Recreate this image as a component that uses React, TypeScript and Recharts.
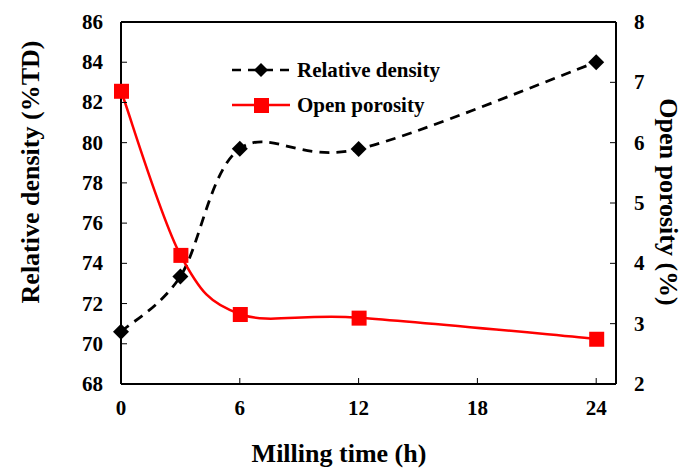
import { LineChart, Line, XAxis, YAxis, ReferenceLine } from "recharts";

const hours = [0, 3, 6, 12, 24];
const relativeDensity = [70.6, 73.35, 79.7, 79.68, 84.0];
const openPorosity = [6.86, 4.14, 3.16, 3.1, 2.75];

const xTicks = [0, 6, 12, 18, 24];
const leftTicks = [68, 70, 72, 74, 76, 78, 80, 82, 84, 86];
const rightTicks = [2, 3, 4, 5, 6, 7, 8];

const data = hours.map((t, i) => ({
  t,
  density: relativeDensity[i],
  porosity: openPorosity[i],
}));

const FONT = "'Liberation Serif', 'Times New Roman', serif";

// spreadsheet-like smoothed line (catmull-rom as bezier)
function smoothCurve(context: any) {
  let pts: [number, number][] = [];
  return {
    areaStart() {},
    areaEnd() {},
    lineStart() {
      pts = [];
    },
    point(x: number, y: number) {
      pts.push([+x, +y]);
    },
    lineEnd() {
      const n = pts.length;
      if (!n) return;
      context.moveTo(pts[0][0], pts[0][1]);
      const k = 1 / 6;
      for (let i = 0; i < n - 1; i++) {
        const p0 = pts[Math.max(i - 1, 0)];
        const p1 = pts[i];
        const p2 = pts[i + 1];
        const p3 = pts[Math.min(i + 2, n - 1)];
        context.bezierCurveTo(
          p1[0] + (p2[0] - p0[0]) * k,
          p1[1] + (p2[1] - p0[1]) * k,
          p2[0] - (p3[0] - p1[0]) * k,
          p2[1] - (p3[1] - p1[1]) * k,
          p2[0],
          p2[1]
        );
      }
    },
  };
}

const Diamond = ({ cx, cy }: any) =>
  cx == null ? null : (
    <polygon
      points={`${cx},${cy - 8} ${cx + 8},${cy} ${cx},${cy + 8} ${cx - 8},${cy}`}
      fill="#000"
    />
  );

const Square = ({ cx, cy }: any) =>
  cx == null ? null : <rect x={cx - 7} y={cy - 7} width={15} height={15} fill="#ff0000" />;

const tickText = { fontFamily: FONT, fontWeight: 700, fontSize: 21, fill: "#000" };
const titleText = { fontFamily: FONT, fontWeight: 700, fontSize: 26, fill: "#000" };

const LeftTick = ({ x, y, payload }: any) => (
  <g>
    <line x1={x + 18} x2={x + 24} y1={y} y2={y} stroke="#000" strokeWidth={1} />
    <text x={x} y={y} dy={7} textAnchor="end" style={tickText}>
      {payload.value}
    </text>
  </g>
);

const RightTick = ({ x, y, payload }: any) => (
  <g>
    <line x1={x - 18} x2={x - 24} y1={y} y2={y} stroke="#000" strokeWidth={1} />
    <text x={x} y={y} dy={7} textAnchor="start" style={tickText}>
      {payload.value}
    </text>
  </g>
);

const BottomTick = ({ x, y, payload }: any) => (
  <g>
    <line x1={x} x2={x} y1={y - 16} y2={y - 22} stroke="#000" strokeWidth={1} />
    <text x={x} y={y} dy={15} textAnchor="middle" style={tickText}>
      {payload.value}
    </text>
  </g>
);

const XTitle = () => (
  <text x={339} y={453} textAnchor="middle" dominantBaseline="central" style={titleText}>
    Milling time (h)
  </text>
);

const LeftTitle = () => (
  <text
    x={30}
    y={172}
    transform="rotate(-90 30 172)"
    textAnchor="middle"
    dominantBaseline="central"
    style={titleText}
  >
    Relative density (%TD)
  </text>
);

const RightTitle = () => (
  <text
    x={668}
    y={202}
    transform="rotate(90 668 202)"
    textAnchor="middle"
    dominantBaseline="central"
    style={titleText}
  >
    Open porosity (%)
  </text>
);

const LegendBox = () => (
  <svg
    width={240}
    height={60}
    style={{ position: "absolute", left: 232, top: 58, overflow: "visible" }}
  >
    <g>
      <line x1={0} x2={58} y1={12} y2={12} stroke="#000" strokeWidth={2.5} strokeDasharray="9 7" />
      <polygon points="29,5 36,12 29,19 22,12" fill="#000" />
      <text x={65} y={12} dy={7} style={tickText}>
        Relative density
      </text>
    </g>
    <g>
      <line x1={0} x2={58} y1={47} y2={47} stroke="#ff0000" strokeWidth={2.5} />
      <rect x={22} y={40} width={15} height={15} fill="#ff0000" />
      <text x={65} y={47} dy={7} style={tickText}>
        Open porosity
      </text>
    </g>
  </svg>
);

export default function App() {
  return (
    <div style={{ position: "absolute", left: 0, top: 0, width: 683, height: 469, background: "#fff" }}>
      <LineChart
        width={683}
        height={469}
        data={data}
        margin={{ top: 22, right: 0, bottom: 0, left: 0 }}
      >
        <XAxis
          dataKey="t"
          type="number"
          domain={[0, 25]}
          ticks={xTicks}
          height={85}
          tickSize={0}
          tickMargin={16}
          tickLine={false}
          axisLine={{ stroke: "#000", strokeWidth: 2 }}
          tick={<BottomTick />}
          label={<XTitle />}
        />
        <YAxis
          yAxisId="left"
          domain={[68, 86]}
          ticks={leftTicks}
          width={121}
          tickSize={0}
          tickMargin={18}
          tickLine={false}
          axisLine={{ stroke: "#000", strokeWidth: 2 }}
          tick={<LeftTick />}
          label={<LeftTitle />}
        />
        <YAxis
          yAxisId="right"
          orientation="right"
          domain={[2, 8]}
          ticks={rightTicks}
          width={67}
          tickSize={0}
          tickMargin={18}
          tickLine={false}
          axisLine={{ stroke: "#000", strokeWidth: 2 }}
          tick={<RightTick />}
          label={<RightTitle />}
        />
        <ReferenceLine yAxisId="left" y={86} stroke="#000" strokeWidth={2} />
        <Line
          yAxisId="left"
          dataKey="density"
          type={smoothCurve as any}
          stroke="#000"
          strokeWidth={2.8}
          strokeDasharray="10 7"
          dot={<Diamond />}
          activeDot={false}
          isAnimationActive={false}
        />
        <Line
          yAxisId="right"
          dataKey="porosity"
          type={smoothCurve as any}
          stroke="#ff0000"
          strokeWidth={2.5}
          dot={<Square />}
          activeDot={false}
          isAnimationActive={false}
        />
      </LineChart>
      <LegendBox />
    </div>
  );
}
